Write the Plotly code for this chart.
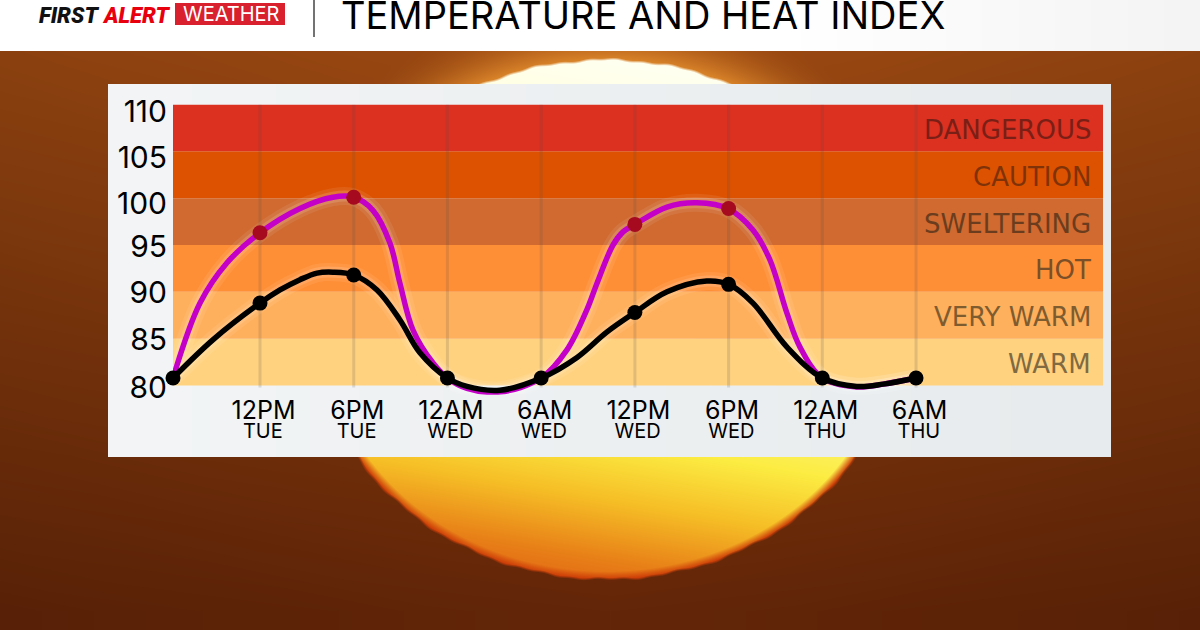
import base64
import struct
import zlib

import numpy as np
import plotly.graph_objects as go

# hours after 12PM Tue
tick_hours = [0, 6, 12, 18, 24, 30, 36, 42]
tick_times = ["12PM", "6PM", "12AM", "6AM", "12PM", "6PM", "12AM", "6AM"]
tick_days = ["TUE", "TUE", "WED", "WED", "WED", "WED", "THU", "THU"]

temp_labels = ["80", "85", "90", "95", "100", "105", "110"]
# the labels in the graphic do not sit quite on the band edges
temp_label_pos = [79.8, 84.9, 89.9, 94.8, 99.4, 104.3, 109.2]

band_names = ["WARM", "VERY WARM", "HOT", "SWELTERING", "CAUTION", "DANGEROUS"]
band_low = [80, 85, 90, 95, 100, 105]
band_high = [85, 90, 95, 100, 105, 110]
band_colors = ["#ffd27f", "#ffb05c", "#ff8f36", "#d06a30", "#dd5200", "#dc3020"]
band_text = ["#7f6a42", "#7f5c30", "#7b5028", "#6b3d1e", "#7f3208", "#7a1f16"]

# marker readings
point_hours = [-5.57, 0, 6, 12, 18, 24, 30, 36, 42]
temp_points = [80.8, 88.8, 91.8, 80.8, 80.8, 87.8, 90.8, 80.8, 80.8]
heat_points = [80.8, 96.3, 100.1, 80.8, 80.8, 97.2, 98.9, 80.8, 80.8]

# curve
heat_hours = [-5.57, -3.84, -2.11, 0, 2.56, 4.67, 6, 7.23, 8.32, 8.96, 9.8, 11.08, 12, 13.25, 15.36,
              18, 19.65, 20.93, 21.57, 22.6, 23.24, 24, 26.06, 27.98, 30, 31.56, 32.65, 33.74, 34.57, 36,
              38.2, 39.9, 42]
heat_curve = [80.8, 88.8, 93.1, 96.3, 98.9, 100.1, 100.1, 98.7, 95.2, 90.9, 85.9, 82.4, 80.8, 79.7, 79.3,
              80.8, 83.8, 88.1, 90.9, 95.0, 96.4, 97.2, 99.05, 99.5, 98.85, 96.6, 93.4, 87.7, 84.1, 80.8,
              79.85, 80.15, 80.8]
temp_hours = [-5.57, -3.0, 0, 1.28, 2.56, 3.65, 4.67, 6, 7.49, 8.96, 10.24, 12, 13.25, 15.36,
              18, 20.3, 22.2, 24, 26.06, 28.6, 30, 31.56, 33.74, 36,
              38.2, 39.9, 42]
temp_curve = [80.8, 84.9, 88.8, 90.2, 91.3, 92.0, 92.1, 91.8, 90.2, 87.0, 83.5, 80.8, 79.9, 79.5,
              80.8, 83.0, 85.7, 87.8, 90.0, 91.15, 90.8, 88.8, 84.1, 80.8,
              79.9, 80.15, 80.8]


def backdrop():
    # sunset photo behind the graphic, header strip and light panel
    W, H = 1200, 630
    yy, xx = np.mgrid[0:H, 0:W].astype(float)
    top = np.array([158, 74, 18.0])
    bot = np.array([100, 38, 8.0])
    t = np.clip((yy - 51) / 560, 0, 1)[..., None]
    img = top * (1 - t) + bot * t
    side = np.clip(np.abs(xx - 610) / 620, 0, 1)[..., None]
    img = img * (1 - 0.12 * side)
    # glow around the disc
    d = np.sqrt(((xx - 606) / 295) ** 2 + ((yy - 319) / 261) ** 2)
    glow = np.clip(1 - (d - 1) / 0.22, 0, 1)[..., None] ** 2
    glow = glow * np.clip((300 - yy) / 200, 0, 1)[..., None]
    img = img * (1 - glow) + np.array([214, 128, 40.0]) * glow
    # disc, pale on top and orange at the foot, leaning to the left
    v = yy - (xx - 606) * 0.17
    stops_y = [60, 330, 440, 500, 560, 620]
    disc = np.stack([
        np.interp(v, stops_y, [255, 255, 252, 246, 232, 222]),
        np.interp(v, stops_y, [255, 255, 236, 190, 128, 84]),
        np.interp(v, stops_y, [240, 170, 66, 38, 24, 16]),
    ], axis=-1)
    ang = np.arctan2(yy - 319, xx - 606)
    wob = 0.003 * np.sin(ang * 23) + 0.002 * np.sin(ang * 61 + 1)
    edge = np.clip((1 + wob - d) / 0.01, 0, 1)[..., None]
    rim = np.clip((d - 0.965) / 0.03, 0, 1)[..., None] * (yy > 300)[..., None]
    disc = disc * (1 - rim) + np.array([205, 62, 8.0]) * rim
    img = img * (1 - edge) + disc * edge
    # panel
    pan = np.array([243, 245, 246.0]) - (xx[..., None] - 108) / 1003 * np.array([12, 10, 9.0])
    mask = (xx >= 108) & (xx < 1111) & (yy >= 84) & (yy < 457)
    img[mask] = pan[mask]
    # header
    head = 255 - np.clip((xx - 800) / 400, 0, 1) * 11
    img[yy < 51] = np.stack([head, head, head], axis=-1)[yy < 51]
    raw = np.clip(img, 0, 255).astype(np.uint8)
    rows = b"".join(b"\x00" + raw[i].tobytes() for i in range(H))

    def chunk(tag, data):
        return struct.pack(">I", len(data)) + tag + data + struct.pack(">I", zlib.crc32(tag + data))

    png = b"\x89PNG\r\n\x1a\n" + chunk(b"IHDR", struct.pack(">IIBBBBB", W, H, 8, 2, 0, 0, 0))
    png += chunk(b"IDAT", zlib.compress(rows, 9)) + chunk(b"IEND", b"")
    return "data:image/png;base64," + base64.b64encode(png).decode()


FONT = "Inter"
fig = go.Figure()

# soft halo under the lines
for xs, ys in [(heat_hours, heat_curve), (temp_hours, temp_curve)]:
    for w, a in [(18, 0.08), (11, 0.14)]:
        fig.add_trace(go.Scatter(x=xs, y=ys, mode="lines", cliponaxis=False, hoverinfo="skip",
                                 line=dict(color="rgba(255,255,255,%s)" % a, width=w, shape="spline")))

fig.add_trace(go.Scatter(x=heat_hours, y=heat_curve, mode="lines", cliponaxis=False,
                         line=dict(color="#c400c8", width=5.5, shape="spline")))
fig.add_trace(go.Scatter(x=point_hours[1:3] + point_hours[5:7], y=heat_points[1:3] + heat_points[5:7],
                         mode="markers", cliponaxis=False, marker=dict(color="#a50a1f", size=15)))
fig.add_trace(go.Scatter(x=temp_hours, y=temp_curve, mode="lines", cliponaxis=False,
                         line=dict(color="#000000", width=5.5, shape="spline")))
fig.add_trace(go.Scatter(x=point_hours, y=temp_points, mode="markers", cliponaxis=False,
                         marker=dict(color="#000000", size=15)))

shapes = []
for lo, hi, c in zip(band_low, band_high, band_colors):
    shapes.append(dict(type="rect", xref="x domain", x0=0, x1=1, yref="y", y0=lo, y1=hi,
                       fillcolor=c, line_width=0, layer="below"))
# time gridlines stop just under the bands, so they are not the axis grid
for h in tick_hours:
    shapes.append(dict(type="line", xref="x", yref="y", x0=h, x1=h, y0=79.8, y1=110, layer="below",
                       line=dict(color="rgba(80,80,80,0.17)", width=3)))
shapes.append(dict(type="rect", xref="paper", yref="paper", x0=175 / 1200, x1=285 / 1200,
                   y0=1 - 25 / 630, y1=1 - 3 / 630, fillcolor="#d9202e", line_width=0))
shapes.append(dict(type="line", xref="paper", yref="paper", x0=314 / 1200, x1=314 / 1200,
                   y0=1 - 37 / 630, y1=1, line=dict(color="#444444", width=1.5)))

annotations = []
for name, lo, hi, c in zip(band_names, band_low, band_high, band_text):
    annotations.append(dict(text=name, xref="x domain", yref="y", x=920 / 930, y=(lo + hi) / 2, yshift=-2,
                            xanchor="right", yanchor="middle", showarrow=False,
                            font=dict(family="DejaVu Sans", size=26, color=c)))


def head_text(text, x, y, size, color, family=FONT, **kw):
    return dict(text=text, xref="paper", yref="paper", x=x / 1200, y=1 - y / 630, xanchor="left",
                yanchor="middle", showarrow=False, font=dict(family=family, size=size, color=color, **kw))


annotations.append(head_text("FIRST", 37, 15, 22, "#111111", "Roboto", weight=900, style="italic"))
annotations.append(head_text("ALERT", 100, 15, 22, "#e8000f", "Roboto", weight=900, style="italic"))
annotations.append(head_text("WEATHER", 181, 14, 20, "#ffffff", FONT))
annotations.append(head_text("TEMPERATURE AND HEAT INDEX", 339, 15, 38, "#000000", FONT))

tick_text = ['<span style="font-size:25px">&nbsp;%s</span><br><span style="font-size:20px">&nbsp;%s</span>' % (a, b)
             for a, b in zip(tick_times, tick_days)]

fig.update_layout(
    width=1200, height=630, margin=dict(l=0, r=0, t=0, b=0, autoexpand=False), showlegend=False,
    paper_bgcolor="rgba(0,0,0,0)", plot_bgcolor="rgba(0,0,0,0)",
    images=[dict(source=backdrop(), xref="paper", yref="paper", x=0, y=1, sizex=1, sizey=1,
                 sizing="stretch", xanchor="left", yanchor="top", layer="below")],
    shapes=shapes, annotations=annotations,
    xaxis=dict(domain=[173 / 1200, 1103 / 1200], range=[-5.57, 53.97], tickmode="array",
               tickvals=tick_hours, ticktext=tick_text, tickangle=0, zeroline=False, showline=False,
               showgrid=False, ticklen=0, ticklabelstandoff=8,
               tickfont=dict(family=FONT, size=15, color="#000000")),
    # range runs a little under 80 so the overnight dip is drawn
    yaxis=dict(domain=[1 - 394.87 / 630, 1 - 104.5 / 630], range=[79, 110], tickmode="array",
               tickvals=temp_label_pos, ticktext=temp_labels, showgrid=False, zeroline=False,
               showline=False, ticklen=0, ticklabelstandoff=5,
               tickfont=dict(family=FONT, size=30, color="#000000")),
)

fig.write_html("out.html", post_script="document.body.style.margin='0';", config=dict(displayModeBar=False))
